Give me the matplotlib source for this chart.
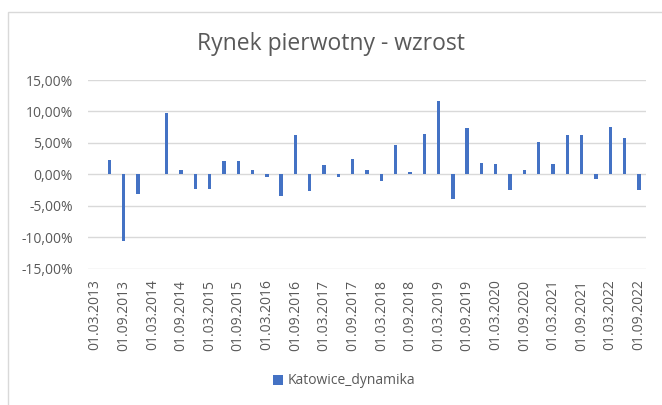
import numpy as np
import matplotlib
matplotlib.use('Agg')
import matplotlib.pyplot as plt
from matplotlib.ticker import FuncFormatter
from matplotlib.patches import Rectangle

# quarterly dates 01.03.2013 .. 01.09.2022
dates = [f'01.{m:02d}.{y}' for y in range(2013, 2023) for m in (3, 6, 9, 12)][:39]
# Katowice_dynamika, %
dynamika = [np.nan, 2.3, -10.7, -3.1, 0.1, 9.7, 0.7, -2.3, -2.3, 2.1,
            2.1, 0.7, -0.5, -3.4, 6.2, -2.7, 1.4, -0.5, 2.5, 0.7,
            -1.0, 4.7, 0.3, 6.4, 11.6, -4.0, 7.3, 1.8, 1.6, -2.5,
            0.7, 5.2, 1.6, 6.2, 6.2, -0.8, 7.5, 5.7, -2.5]
yticks = [-15, -10, -5, 0, 5, 10, 15]

txt = '#595959'
grid = '#D9D9D9'
blue = '#4472C4'
plt.rcParams['font.family'] = ['Open Sans', 'DejaVu Sans']

fig = plt.figure(figsize=(6.62, 4.05), dpi=100)
ax = fig.add_axes([88/662, 1 - 268.5/405, (646 - 88)/662, (268.5 - 80)/405])

x = np.arange(len(dates))
ax.bar(x, dynamika, width=0.24, color=blue, label='Katowice_dynamika', zorder=3)

ax.set_xlim(-0.5, len(dates) - 0.5)
ax.set_ylim(-15, 15)
ax.set_yticks(yticks)
ax.yaxis.set_major_formatter(FuncFormatter(lambda v, p: f'{v:.2f}%'.replace('.', ',')))
ax.set_xticks(x[::2])
ax.set_xticklabels(dates[::2], rotation=90)
ax.grid(axis='y', color=grid, linewidth=1, zorder=0)
for s in ax.spines.values():
    s.set_visible(False)
ax.tick_params(length=0, colors=txt, labelsize=10)
ax.tick_params(axis='x', pad=8)
ax.tick_params(axis='y', pad=11)

fig.text(0.5, 1 - 44/405, 'Rynek pierwotny - wzrost', ha='center', va='center',
         fontsize=16.5, color=txt)
fig.legend(loc='center', bbox_to_anchor=(344/662, 1 - 381/405), frameon=False,
           fontsize=10, labelcolor=txt, handlelength=0.7, handleheight=0.7,
           handletextpad=0.3)

# outer chart border
fig.add_artist(Rectangle((8/662, -0.1), 1.2, 1 - 12/405 + 0.1, transform=fig.transFigure,
                         fill=False, edgecolor=grid, linewidth=1))

plt.savefig('out.png', dpi=100)
plt.close()
